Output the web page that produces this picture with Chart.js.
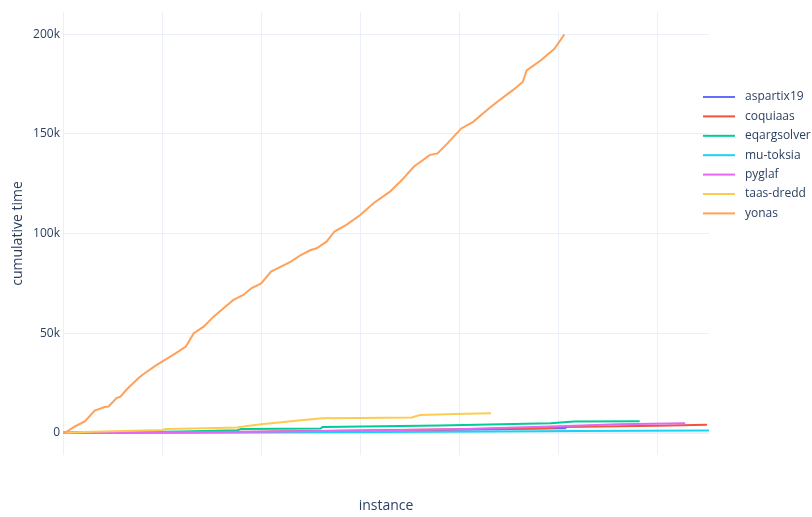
<!DOCTYPE html>
<html>
<head>
<meta charset="utf-8">
<title>cumulative time per instance</title>
<script src="https://cdn.jsdelivr.net/npm/chart.js@4.4.1/dist/chart.umd.min.js"></script>
<style>
  html, body { margin: 0; padding: 0; background: #ffffff; }
  #wrap { width: 812px; height: 517px; position: relative; }
</style>
</head>
<body>
<div id="wrap"><canvas id="cumChart" width="812" height="517"></canvas></div>
<script>
// Solvers, in legend order
const solvers = ['aspartix19', 'coquiaas', 'eqargsolver', 'mu-toksia', 'pyglaf', 'taas-dredd', 'yonas'];
const colors = ['#636efa', '#ef553b', '#00cc96', '#19d3f3', '#e468f2', '#fecb52', '#ffa15a'];

// Cumulative runtime (seconds) against number of solved instances
const aspartixX = [0, 80, 150, 200, 254];
const aspartixY = [0, 300, 900, 1600, 2300];

const coquiaasX = [0, 100, 190, 246, 252, 300, 325];
const coquiaasY = [0, 500, 1700, 2500, 2900, 3600, 4100];

const eqargX = [0, 30, 60, 88, 90, 130, 131, 190, 246, 258, 291];
const eqargY = [0, 300, 700, 1300, 2000, 2200, 3000, 3700, 4800, 5700, 5800];

const mutoksiaX = [0, 50, 100, 190, 260, 326];
const mutoksiaY = [0, 50, 200, 600, 900, 1200];

const pyglafX = [0, 100, 198, 250, 280, 314];
const pyglafY = [0, 600, 1800, 3300, 4300, 4800];

const taasX = [0, 15, 30, 50, 52, 72, 88, 92, 100, 105, 114, 120, 131, 150, 176, 180, 198, 216];
const taasY = [0, 500, 1000, 1500, 2000, 2300, 2700, 3300, 4300, 4800, 5700, 6300, 7300, 7500, 7700, 9000, 9500, 9900];

const yonasX = [0, 1, 6, 11, 16, 21, 23, 27, 29, 32, 38, 40, 46, 50, 57, 62, 66, 71, 76, 81, 86, 91, 95, 100,
  105, 110, 115, 120, 125, 128, 133, 137, 143, 150, 157, 165, 171, 177, 185, 189, 194, 201, 207, 214, 219,
  227, 232, 234, 241, 248, 253];
const yonasY = [0, 0, 3200, 5700, 11200, 13000, 13200, 17400, 18200, 21600, 27400, 29000, 33200, 35700, 40000,
  43300, 50000, 53300, 58300, 62500, 66700, 69200, 72500, 75000, 80900, 83400, 85900, 89200, 91700, 92600,
  95900, 101000, 104300, 109300, 115400, 121000, 126800, 133500, 139300, 140200, 145200, 152700, 156000,
  161900, 166000, 171900, 176000, 181800, 186800, 192600, 199800];

const seriesX = [aspartixX, coquiaasX, eqargX, mutoksiaX, pyglafX, taasX, yonasX];
const seriesY = [aspartixY, coquiaasY, eqargY, mutoksiaY, pyglafY, taasY, yonasY];

// y tick values shown on the axis
const yTicks = [0, 50000, 100000, 150000, 200000];

const textColor = '#2a3f5f';
const gridColor = '#ebf0f8';
const fontFamily = '"Open Sans", "Noto Sans", sans-serif';

function fmtK(v) {
  return v === 0 ? '0' : (v / 1000) + 'k';
}

const datasets = solvers.map((name, i) => ({
  label: name,
  data: seriesX[i].map((x, j) => ({ x: x, y: seriesY[i][j] })),
  borderColor: colors[i],
  backgroundColor: colors[i],
  borderWidth: 2,
  pointRadius: 0,
  tension: 0,
  fill: false,
  order: solvers.length - i, // later traces sit on top
}));

// Axis titles and legend, drawn on the canvas
const annotations = {
  id: 'annotations',
  afterDraw(chart) {
    const ctx = chart.ctx;
    const area = chart.chartArea;
    ctx.save();
    ctx.fillStyle = textColor;

    ctx.font = '14px ' + fontFamily;
    ctx.textAlign = 'center';
    ctx.textBaseline = 'middle';
    ctx.fillText('instance', (area.left + area.right) / 2, 506);

    ctx.translate(18, (area.top + area.bottom) / 2);
    ctx.rotate(-Math.PI / 2);
    ctx.fillText('cumulative time', 0, 0);
    ctx.restore();

    ctx.save();
    ctx.font = '12px ' + fontFamily;
    ctx.textAlign = 'left';
    ctx.textBaseline = 'middle';
    solvers.forEach((name, i) => {
      const y = 97 + i * 19.4;
      ctx.strokeStyle = colors[i];
      ctx.lineWidth = 2;
      ctx.beginPath();
      ctx.moveTo(703, y);
      ctx.lineTo(735, y);
      ctx.stroke();
      ctx.fillStyle = textColor;
      ctx.fillText(name, 745, y);
    });
    ctx.restore();
  }
};

const ctx = document.getElementById('cumChart').getContext('2d');
new Chart(ctx, {
  type: 'line',
  data: { datasets },
  plugins: [annotations],
  options: {
    responsive: false,
    animation: false,
    devicePixelRatio: 1,
    layout: { padding: { top: 12, right: 103, left: 0, bottom: 0 } },
    plugins: { legend: { display: false }, tooltip: { enabled: false } },
    scales: {
      x: {
        type: 'linear',
        min: 0,
        max: 326,
        ticks: { display: false, stepSize: 50 },
        afterBuildTicks: (scale) => { scale.ticks = scale.ticks.filter(t => t.value % 50 === 0); },
        afterFit: (scale) => { scale.height = 62; },
        grid: { color: gridColor, lineWidth: 1, drawTicks: false },
        border: { display: false },
      },
      y: {
        type: 'linear',
        min: -11100,
        max: 211100,
        ticks: {
          stepSize: 50000,
          padding: 3,
          color: textColor,
          font: { family: fontFamily, size: 12 },
          callback: (v) => fmtK(v),
        },
        afterBuildTicks: (scale) => { scale.ticks = yTicks.map(v => ({ value: v })); },
        afterFit: (scale) => { scale.width = 63; },
        grid: {
          color: (c) => gridColor,
          lineWidth: (c) => (c.tick && c.tick.value === 0 ? 2 : 1),
          drawTicks: false,
        },
        border: { display: false },
      },
    },
  },
});
</script>
</body>
</html>
